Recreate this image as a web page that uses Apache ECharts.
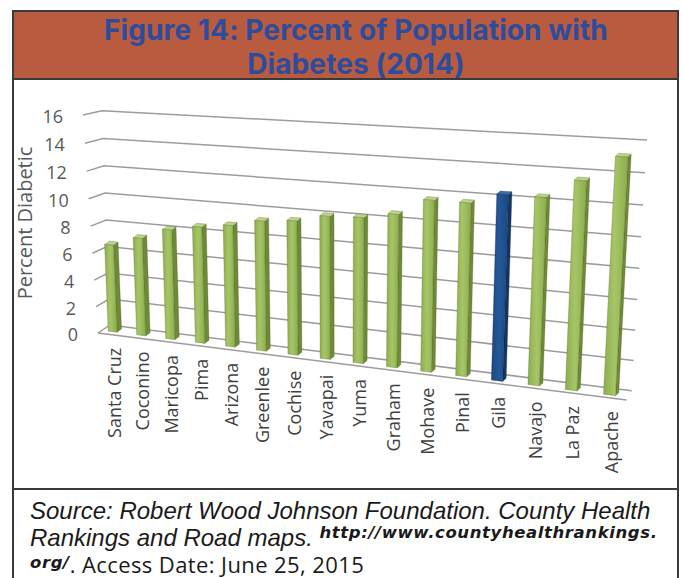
<!DOCTYPE html>
<html>
<head>
<meta charset="utf-8">
<title>Percent of Population with Diabetes (2014)</title>
<script src="https://cdn.jsdelivr.net/npm/echarts@6.0.0/dist/echarts.min.js"></script>
<style>
  html, body { margin: 0; padding: 0; background: #fff; }
  #page { position: relative; width: 684px; height: 578px; overflow: hidden; background: #fff; }
  #chart { position: absolute; left: 0; top: 0; width: 684px; height: 578px; z-index: 1; }
  .frame { position: absolute; box-sizing: border-box; border: 2px solid #3a3a3a; z-index: 0; }
  #band { left: 12px; top: 10px; width: 667px; height: 70px; background: #B95B3E; }
  #box { left: 12px; top: 78px; width: 667px; height: 412px; border-top: none; }
  #foot { left: 12px; top: 488px; width: 667px; height: 100px; border-top: none; border-bottom: none; }
  #title { position: absolute; left: 0; top: 13px; width: 712px; text-align: center; z-index: 2;
           font: 700 28px/34px Inter, sans-serif; color: #2C4C9E; letter-spacing: 0.1px; }
  .src { position: absolute; left: 30px; z-index: 2; white-space: nowrap; color: #1a1a1a; height: 24px; line-height: 24px; }
  .it { font: italic 24px "Liberation Sans", Arial, sans-serif; }
  .url { font: italic 700 16.5px "DejaVu Sans", sans-serif; line-height: 0; letter-spacing: 0.6px; }
  .plain { font: 22px "Open Sans", sans-serif; letter-spacing: 0.4px; }
</style>
</head>
<body>
<div id="page">
  <div id="band" class="frame"></div>
  <div id="box" class="frame"></div>
  <div id="foot" class="frame"></div>
  <div id="title">Figure 14: Percent of Population with<br>Diabetes (2014)</div>
  <div id="chart"></div>
  <div class="src it" style="top:497px;">Source: Robert Wood Johnson Foundation. County Health</div>
  <div class="src it" style="top:524px;">Rankings and Road maps. <span class="url" style="vertical-align:8px;">http://www.countyhealthrankings.</span></div>
  <div class="src plain" style="top:549px;"><span class="url" style="vertical-align:5px;">org/</span>. Access Date: June 25, 2015</div>
</div>
<script>
// ---- data ----
const counties = ['Santa Cruz', 'Coconino', 'Maricopa', 'Pima', 'Arizona', 'Greenlee', 'Cochise',
  'Yavapai', 'Yuma', 'Graham', 'Mohave', 'Pinal', 'Gila', 'Navajo', 'La Paz', 'Apache'];
const percentDiabetic = [6.5, 7.2, 8.0, 8.4, 8.7, 9.2, 9.4, 9.9, 10.0, 10.4, 11.5, 11.5, 12.2, 12.2, 13.4, 15.0];
const valueTicks = [0, 2, 4, 6, 8, 10, 12, 14, 16];
const highlightCounty = 'Gila';
const axisTitle = 'Percent Diabetic';

// ---- perspective frame of the 3-D box (screen corners for unit coordinates) ----
const UNIT_SQUARE = [[0, 0], [1, 0], [0, 1], [1, 1]];
const BACK_WALL_CORNERS = [[110, 325], [631.7, 390.7], [102, 110.7], [647, 140]];
const BAR_PLANE_CORNERS = [[98.5, 329.9], [629, 397.5], [89, 112], [643, 141.1]];
const WALL_DEPTH_BOTTOM = [-12, 8];   // back-left edge -> front-left edge
const WALL_DEPTH_TOP = [-19, 4.3];
const FLOOR_DEPTH_RIGHT = [-5, 9.3];
const BAR_DEPTH_LEFT = [4.6, -3.2];   // front face -> back face of a column
const BAR_DEPTH_RIGHT = [3.2, -3.0];
const BAR_FRACTION = 0.31;

const GRID_COLOR = '#9C9C9C';
const GREEN = { dark: '#8CAD4D', light: '#A6C567', side: '#6E8A36', top: '#BCD389', edge: 'rgba(70,90,30,0.45)' };
const BLUE = { dark: '#1C4780', light: '#24589A', side: '#143663', top: '#3C6DAA', edge: 'rgba(10,30,60,0.5)' };

function solveHomography(src, dst) {
  const A = [], b = [];
  for (let k = 0; k < 4; k++) {
    const [s, t] = src[k], [x, y] = dst[k];
    A.push([s, t, 1, 0, 0, 0, -s * x, -t * x]); b.push(x);
    A.push([0, 0, 0, s, t, 1, -s * y, -t * y]); b.push(y);
  }
  const n = 8;
  for (let c = 0; c < n; c++) {
    let p = c;
    for (let r = c + 1; r < n; r++) if (Math.abs(A[r][c]) > Math.abs(A[p][c])) p = r;
    [A[c], A[p]] = [A[p], A[c]]; [b[c], b[p]] = [b[p], b[c]];
    for (let r = 0; r < n; r++) {
      if (r === c) continue;
      const f = A[r][c] / A[c][c];
      for (let k = c; k < n; k++) A[r][k] -= f * A[c][k];
      b[r] -= f * b[c];
    }
  }
  return b.map((v, i) => v / A[i][i]);
}
function project(h, s, t) {
  const w = h[6] * s + h[7] * t + 1;
  return [(h[0] * s + h[1] * t + h[2]) / w, (h[3] * s + h[4] * t + h[5]) / w];
}
const lerp2 = (a, b, k) => [a[0] + (b[0] - a[0]) * k, a[1] + (b[1] - a[1]) * k];
const add = (a, b) => [a[0] + b[0], a[1] + b[1]];

const backWall = solveHomography(UNIT_SQUARE, BACK_WALL_CORNERS);
const barPlane = solveHomography(UNIT_SQUARE, BAR_PLANE_CORNERS);

// position inside the cartesian grid, as fractions (0..1) of its width / height
function unitPoint(params, api, cat, val) {
  const r = params.coordSys;
  const p = api.coord([cat, val]);
  return [(p[0] - r.x) / r.width, (r.y + r.height - p[1]) / r.height];
}

function renderGridLine(params, api) {
  const v = api.value(1);
  const t = unitPoint(params, api, 0, v)[1];
  const back0 = project(backWall, 0, t);
  const back1 = project(backWall, 1, t);
  const front0 = add(back0, lerp2(WALL_DEPTH_BOTTOM, WALL_DEPTH_TOP, t));
  const children = [
    { type: 'polyline', shape: { points: [front0, back0, back1] },
      style: { stroke: GRID_COLOR, lineWidth: 1.5, fill: null } },
    { type: 'text', x: front0[0] - 20, y: front0[1] + 1,
      style: { text: String(v), align: 'right', verticalAlign: 'middle',
               font: '18px "Open Sans"', fill: '#595959' } }
  ];
  if (v === valueTicks[0]) {
    const floorRight = add(project(backWall, 1, t), FLOOR_DEPTH_RIGHT);
    children.push({ type: 'polyline', shape: { points: [front0, floorRight] },
      style: { stroke: GRID_COLOR, lineWidth: 1.5, fill: null } });
  }
  return { type: 'group', children };
}

function renderColumn(params, api) {
  const i = api.value(0), v = api.value(1);
  const r = params.coordSys;
  const base = unitPoint(params, api, i, 0);
  const s = base[0], t0 = base[1];
  const t1 = unitPoint(params, api, i, v)[1];
  const half = api.size([1, 0])[0] / r.width * BAR_FRACTION / 2;
  const bl = project(barPlane, s - half, t0), br = project(barPlane, s + half, t0);
  const tr = project(barPlane, s + half, t1), tl = project(barPlane, s - half, t1);
  const d = lerp2(BAR_DEPTH_LEFT, BAR_DEPTH_RIGHT, s);
  const br2 = add(br, d), tr2 = add(tr, d), tl2 = add(tl, d);
  const pal = counties[i] === highlightCounty ? BLUE : GREEN;
  const frontFill = new echarts.graphic.LinearGradient(0, 0, 1, 0, [
    { offset: 0, color: pal.dark }, { offset: 0.45, color: pal.light }, { offset: 1, color: pal.dark }
  ]);
  return {
    type: 'group',
    children: [
      { type: 'polygon', shape: { points: [br, br2, tr2, tr] },
        style: { fill: pal.side, stroke: pal.edge, lineWidth: 0.6 } },
      { type: 'polygon', shape: { points: [tl, tr, tr2, tl2] },
        style: { fill: pal.top, stroke: pal.edge, lineWidth: 0.6 } },
      { type: 'polygon', shape: { points: [bl, br, tr, tl] },
        style: { fill: frontFill, stroke: pal.edge, lineWidth: 0.6 } },
      { type: 'text', x: (bl[0] + br[0]) / 2 + 1, y: (bl[1] + br[1]) / 2 + 16, rotation: Math.PI / 2,
        style: { text: counties[i], align: 'right', verticalAlign: 'middle',
                 font: '18px "Open Sans"', fill: '#404040' } }
    ]
  };
}

const chart = echarts.init(document.getElementById('chart'), null, { renderer: 'svg', width: 684, height: 578 });
chart.setOption({
  animation: false,
  backgroundColor: 'transparent',
  grid: { left: 100, right: 50, top: 110, bottom: 240 },
  xAxis: { type: 'category', data: counties, show: false },
  yAxis: { type: 'value', min: 0, max: 16, interval: 2, show: false },
  graphic: [{
    type: 'text', x: 24, y: 223, rotation: Math.PI / 2,
    style: { text: axisTitle, align: 'center', verticalAlign: 'middle',
             font: '20px "Open Sans"', fill: '#595959' }
  }],
  series: [
    { type: 'custom', name: 'grid', silent: true, z: 1,
      renderItem: renderGridLine, data: valueTicks.map(v => [0, v]) },
    { type: 'custom', name: 'Percent Diabetic', z: 2,
      renderItem: renderColumn, data: percentDiabetic.map((v, i) => [i, v]) }
  ]
});
</script>
</body>
</html>
